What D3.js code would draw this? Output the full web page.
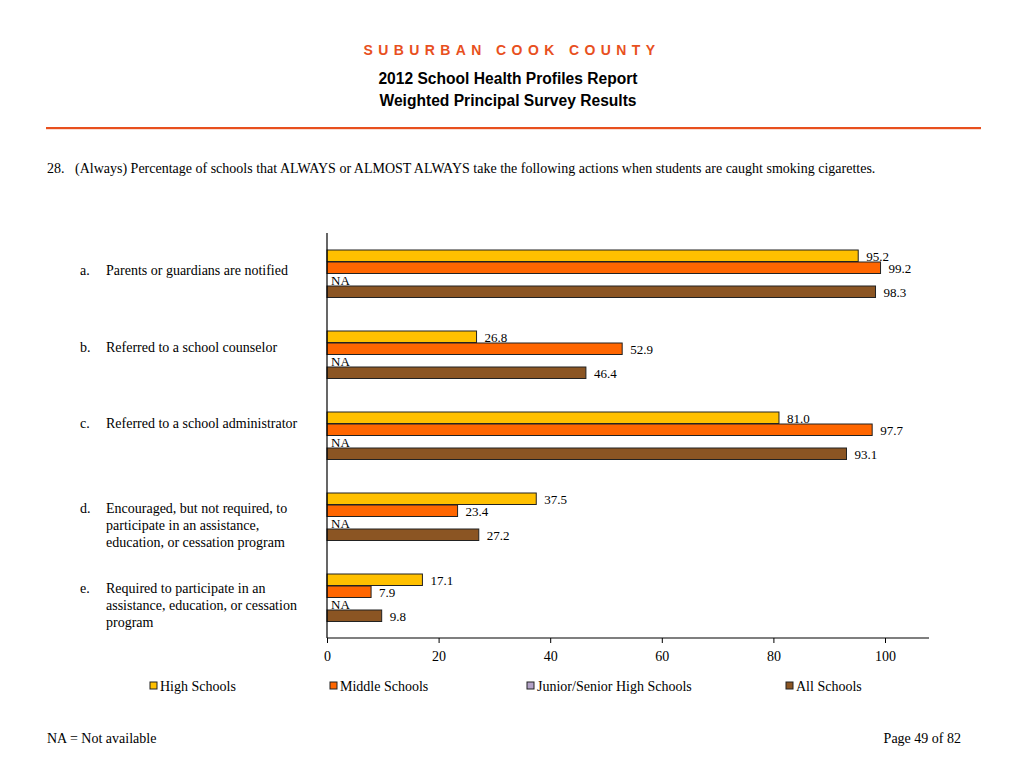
<!DOCTYPE html>
<html><head><meta charset="utf-8">
<script src="https://cdn.jsdelivr.net/npm/d3@7"></script>
<style>body{margin:0;background:#fff}</style>
</head><body>
<svg id="c" width="1024" height="768"></svg>
<script>
const categories = [
  ["Parents or guardians are notified"],
  ["Referred to a school counselor"],
  ["Referred to a school administrator"],
  ["Encouraged, but not required, to","participate in an assistance,","education, or cessation program"],
  ["Required to participate in an","assistance, education, or cessation","program"]
];
const letters = ["a.","b.","c.","d.","e."];
const seriesNames = ["High Schools","Middle Schools","Junior/Senior High Schools","All Schools"];
const highSchools = [95.2, 26.8, 81.0, 37.5, 17.1];
const middleSchools = [99.2, 52.9, 97.7, 23.4, 7.9];
const juniorSenior = [null, null, null, null, null];
const allSchools = [98.3, 46.4, 93.1, 27.2, 9.8];
const xTicks = [0,20,40,60,80,100];
const colors = ["#FFC000","#FF6600","#B3A2C7","#8B5523"];

const series = [highSchools, middleSchools, juniorSenior, allSchools];
const svg = d3.select("#c");
const serif = "Liberation Serif, Times New Roman";
const sans = "Liberation Sans, Arial";

// header
svg.append("text").attr("x",512).attr("y",55).attr("text-anchor","middle")
  .attr("font-family",sans).attr("font-weight","bold").attr("font-size",14)
  .attr("letter-spacing","5.4px").attr("fill","#E8501E").text("SUBURBAN COOK COUNTY");
svg.append("text").attr("x",508).attr("y",84).attr("text-anchor","middle")
  .attr("font-family",sans).attr("font-weight","bold").attr("font-size",15.6)
  .text("2012 School Health Profiles Report");
svg.append("text").attr("x",508).attr("y",106).attr("text-anchor","middle")
  .attr("font-family",sans).attr("font-weight","bold").attr("font-size",15.6)
  .text("Weighted Principal Survey Results");
svg.append("rect").attr("x",46).attr("y",127).attr("width",935).attr("height",2.2).attr("fill","#E8501E");

svg.append("text").attr("x",47).attr("y",173).attr("font-family",serif)
  .attr("font-size",14).text("28.");
svg.append("text").attr("x",75).attr("y",173).attr("font-family",serif)
  .attr("font-size",14).text("(Always) Percentage of schools that ALWAYS or ALMOST ALWAYS take the following actions when students are caught smoking cigarettes.");

const x = d3.scaleLinear().domain([0,100]).range([327,885]);
const y = d3.scaleBand().domain(d3.range(5)).range([233,638]);
const inner = d3.scaleBand().domain(d3.range(4)).range([0,48]);
const g = svg.append("g");
const firstLineOffset = [37,33,28,32,31];

categories.forEach((lines,i)=>{
  const lh = 17;
  const y0 = y(i) + firstLineOffset[i] + 5;
  svg.append("text").attr("x",80).attr("y",y0).attr("font-family",serif)
    .attr("font-size",14).text(letters[i]);
  lines.forEach((t,k)=>{
    svg.append("text").attr("x",106).attr("y",y0+k*lh).attr("font-family",serif)
      .attr("font-size",14).text(t);
  });
  series.forEach((s,j)=>{
    const v = s[i];
    const by = y(i)+17+inner(j);
    if(v==null){
      g.append("text").attr("x",331).attr("y",by+10.5).attr("font-family",serif)
        .attr("font-size",13).text("NA");
    } else {
      g.append("rect").attr("x",x(0)).attr("y",by).attr("width",x(v)-x(0)).attr("height",inner.bandwidth()-0.5)
        .attr("fill",colors[j]).attr("stroke","#222").attr("stroke-width",1);
      g.append("text").attr("x",x(v)+8).attr("y",by+11).attr("font-family",serif)
        .attr("font-size",13).text(v.toFixed(1));
    }
  });
});

// axes
svg.append("line").attr("x1",327).attr("x2",327).attr("y1",233).attr("y2",638).attr("stroke","#000").attr("stroke-width",1.2);
svg.append("line").attr("x1",327).attr("x2",929).attr("y1",638).attr("y2",638).attr("stroke","#000").attr("stroke-width",1.2);
const ax = svg.append("g").attr("transform","translate(0,638)")
  .call(d3.axisBottom(x).tickValues(xTicks).tickSize(5).tickSizeOuter(0).tickFormat(d3.format("d")));
ax.select(".domain").remove();
ax.selectAll("text").attr("font-family",serif).attr("font-size",14).attr("y",23).attr("dy",0).attr("fill","#000");

// legend
const lx = [150,330,527,786];
seriesNames.forEach((n,j)=>{
  svg.append("rect").attr("x",lx[j]).attr("y",682).attr("width",7).attr("height",7)
    .attr("fill",colors[j]).attr("stroke","#222").attr("stroke-width",1);
  svg.append("text").attr("x",lx[j]+10).attr("y",691).attr("font-family",serif)
    .attr("font-size",14).text(n);
});

svg.append("text").attr("x",47).attr("y",743).attr("font-family",serif).attr("font-size",14).text("NA = Not available");
svg.append("text").attr("x",961).attr("y",743).attr("text-anchor","end").attr("font-family",serif).attr("font-size",14).text("Page 49 of 82");
</script>
</body></html>
